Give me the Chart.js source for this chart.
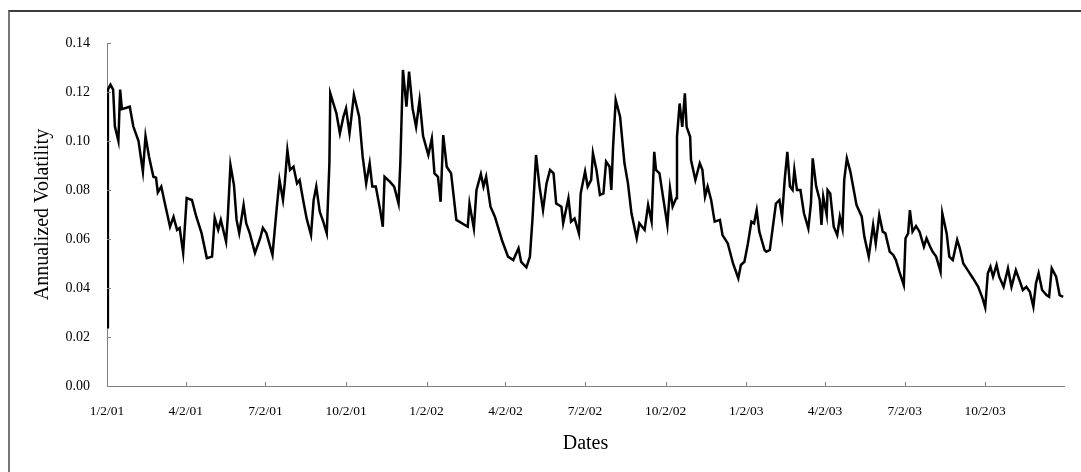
<!DOCTYPE html>
<html>
<head>
<meta charset="utf-8">
<script src="https://cdn.jsdelivr.net/npm/chart.js@4/dist/chart.umd.min.js"></script>
<style>
  body { margin: 0; background: #fff; }
  #wrap { position: relative; width: 1081px; height: 472px; overflow: hidden; }
  #frame { position: absolute; left: 8px; top: 10px; width: 1200px; height: 600px;
           border-top: 2px solid #3c3c3c; border-left: 2px solid #777; }
  #box { position: absolute; left: 0; top: 0; width: 1081px; height: 472px; }
</style>
</head>
<body>
<div id="wrap">
  <div id="frame"></div>
  <div id="box"><canvas id="volChart"></canvas></div>
</div>
<script>
// days counted from 1/2/01
const days = [0, 1, 4, 7, 9, 13, 15, 17, 26, 30, 36, 41, 44, 48, 53, 56, 58, 62, 66, 72,
  76, 80, 83, 87, 91, 97, 102, 108, 114, 120, 123, 127, 130, 136, 138, 141, 145, 148, 151, 156,
  159, 163, 169, 175, 178, 182, 189, 194, 197, 201, 203, 206, 209, 213, 217, 220, 224, 228, 233, 236,
  239, 243, 247, 251, 254, 255, 262, 266, 270, 273, 277, 282, 288, 292, 296, 300, 303, 307, 312, 315,
  317, 323, 328, 333, 335, 338, 342, 345, 349, 353, 357, 361, 367, 371, 374, 378, 381, 384, 388, 393,
  399, 412, 414, 419, 422, 427, 430, 433, 438, 443, 451, 458, 464, 470, 473, 479, 483, 486, 490, 494,
  498, 502, 506, 510, 513, 519, 521, 527, 530, 534, 539, 541, 546, 549, 553, 555, 559, 563, 567, 570,
  574, 576, 578, 581, 586, 591, 595, 599, 605, 608, 614, 618, 622, 625, 627, 631, 635, 640, 643, 646,
  650, 651, 654, 657, 660, 662, 666, 667, 672, 677, 680, 683, 686, 690, 694, 700, 703, 709, 715, 721,
  724, 728, 732, 736, 739, 742, 745, 751, 753, 757, 764, 768, 771, 774, 777, 780, 783, 785, 788, 792,
  796, 801, 804, 806, 810, 814, 816, 818, 822, 823, 826, 830, 834, 837, 840, 842, 845, 849, 856, 862,
  865, 870, 875, 878, 882, 886, 889, 894, 898, 901, 905, 910, 912, 915, 917, 920, 924, 928, 933, 936,
  940, 943, 947, 952, 954, 959, 962, 966, 971, 974, 978, 983, 989, 995, 1000, 1003, 1006, 1009, 1012, 1016,
  1019, 1024, 1029, 1033, 1038, 1042, 1046, 1050, 1054, 1058, 1061, 1064, 1068, 1073, 1076, 1079, 1084, 1088, 1092];

const volatility = [0.024, 0.121, 0.123, 0.121, 0.106, 0.100, 0.121, 0.113, 0.114, 0.106, 0.100, 0.0875, 0.102, 0.0936, 0.0854, 0.085, 0.079, 0.0814, 0.0747, 0.065,
  0.069, 0.0637, 0.0645, 0.0543, 0.0767, 0.0759, 0.0691, 0.0624, 0.0522, 0.0528, 0.0686, 0.0637, 0.0678, 0.0589, 0.0691, 0.0902, 0.082, 0.0678, 0.0624, 0.0739,
  0.0664, 0.0624, 0.0543, 0.0604, 0.0645, 0.0624, 0.0535, 0.0732, 0.0841, 0.0759, 0.0827, 0.0963, 0.0882, 0.0895, 0.0827, 0.0841, 0.0759, 0.0684, 0.0616, 0.0759,
  0.0814, 0.0711, 0.0671, 0.0623, 0.0909, 0.1195, 0.1113, 0.1031, 0.1099, 0.1133, 0.1031, 0.1188, 0.1099, 0.0936, 0.0827, 0.0909, 0.0814, 0.0814, 0.0718, 0.065,
  0.0854, 0.0834, 0.0814, 0.0745, 0.0909, 0.129, 0.114, 0.1283, 0.1133, 0.1058, 0.1167, 0.102, 0.0943, 0.101, 0.0868, 0.0854, 0.0752, 0.1024, 0.0895, 0.0868,
  0.0678, 0.065, 0.0745, 0.0643, 0.08, 0.0865, 0.0814, 0.0854, 0.0732, 0.0691, 0.0596, 0.0528, 0.0514, 0.0562, 0.0507, 0.0484, 0.0528, 0.0684, 0.0943, 0.0814,
  0.0718, 0.0827, 0.0882, 0.0868, 0.0745, 0.0732, 0.0664, 0.0766, 0.0671, 0.0684, 0.0623, 0.0786, 0.0875, 0.0814, 0.0841, 0.095, 0.0882, 0.078, 0.0786, 0.0916,
  0.0895, 0.08, 0.0977, 0.1167, 0.1099, 0.0909, 0.0827, 0.0705, 0.0603, 0.0664, 0.0637, 0.0739, 0.0671, 0.0956, 0.0882, 0.0868, 0.0773, 0.0657, 0.0807, 0.0732,
  0.0766, 0.1017, 0.1153, 0.1058, 0.1195, 0.1058, 0.1017, 0.0922, 0.0841, 0.0909, 0.0882, 0.0773, 0.0814, 0.0759, 0.0671, 0.0678, 0.0616, 0.0582, 0.05, 0.044,
  0.0494, 0.0507, 0.0582, 0.0671, 0.0664, 0.0718, 0.063, 0.0555, 0.0548, 0.0555, 0.0745, 0.0759, 0.0691, 0.0841, 0.0956, 0.0814, 0.08, 0.0882, 0.08, 0.08,
  0.0705, 0.0643, 0.0745, 0.0929, 0.0814, 0.0759, 0.0657, 0.0773, 0.0698, 0.08, 0.0786, 0.065, 0.0616, 0.0691, 0.0643, 0.0841, 0.0929, 0.0875, 0.0739, 0.0691,
  0.0609, 0.0528, 0.0657, 0.0582, 0.0698, 0.063, 0.0623, 0.0548, 0.0535, 0.0514, 0.0466, 0.0412, 0.0603, 0.0623, 0.0718, 0.063, 0.0653, 0.063, 0.0569, 0.0603,
  0.0569, 0.0548, 0.0528, 0.0466, 0.0705, 0.0623, 0.0528, 0.0514, 0.0596, 0.0562, 0.05, 0.0473, 0.044, 0.0405, 0.0358, 0.0321, 0.046, 0.0487, 0.0446, 0.0494,
  0.0446, 0.0405, 0.048, 0.0405, 0.0473, 0.0433, 0.0392, 0.0405, 0.0385, 0.0324, 0.0419, 0.046, 0.0392, 0.0371, 0.0364, 0.048, 0.0446, 0.0371, 0.0364];

// quarterly date ticks
const tickDays = [0, 90, 181, 273, 365, 455, 546, 638, 730, 820, 911, 1003];
const tickLabels = ["1/2/01", "4/2/01", "7/2/01", "10/2/01", "1/2/02", "4/2/02", "7/2/02",
  "10/2/02", "1/2/03", "4/2/03", "7/2/03", "10/2/03"];
const lastDay = 1093;

const axisColor = "#808080";
const serif = "'Liberation Serif', 'Times New Roman', serif";

// tick marks pointing into the plot, like the original
const insideTicks = {
  id: "insideTicks",
  afterDraw(chart) {
    const ctx = chart.ctx;
    const x = chart.scales.x, y = chart.scales.y;
    const area = chart.chartArea;
    ctx.save();
    ctx.strokeStyle = axisColor;
    ctx.lineWidth = 1;
    ctx.beginPath();
    y.ticks.forEach((t) => {
      const py = Math.round(y.getPixelForValue(t.value)) + 0.5;
      ctx.moveTo(area.left, py);
      ctx.lineTo(area.left + 4, py);
    });
    x.ticks.forEach((t) => {
      if (t.value === 0) return;
      const px = Math.round(x.getPixelForValue(t.value)) + 0.5;
      ctx.moveTo(px, area.bottom);
      ctx.lineTo(px, area.bottom - 4);
    });
    ctx.stroke();
    ctx.restore();
  },
};

const points = days.map((d, i) => ({ x: d, y: volatility[i] }));

new Chart(document.getElementById("volChart"), {
  type: "line",
  data: {
    datasets: [{
      data: points,
      borderColor: "#000",
      borderWidth: 2.5,
      pointRadius: 0,
      tension: 0,
      fill: false,
    }],
  },
  options: {
    responsive: true,
    maintainAspectRatio: false,
    animation: false,
    layout: { padding: { top: 43, right: 17, bottom: 0, left: 0 } },
    plugins: { legend: { display: false }, tooltip: { enabled: false } },
    scales: {
      x: {
        type: "linear",
        min: 0,
        max: lastDay,
        afterBuildTicks: (scale) => { scale.ticks = tickDays.map((v) => ({ value: v })); },
        afterFit: (scale) => { scale.height = 86; },
        grid: { drawOnChartArea: false, drawTicks: false },
        border: { color: axisColor, width: 1 },
        ticks: {
          autoSkip: false,
          maxRotation: 0,
          padding: 17,
          color: "#000",
          font: { family: serif, size: 13.5 },
          callback: (v) => tickLabels[tickDays.indexOf(v)],
        },
        title: {
          display: true,
          text: "Dates",
          color: "#000",
          font: { family: serif, size: 20 },
          padding: { top: 0, bottom: 16 },
        },
      },
      y: {
        min: 0,
        max: 0.14,
        afterFit: (scale) => { scale.width = 107; },
        grid: { drawOnChartArea: false, drawTicks: false },
        border: { color: axisColor, width: 1 },
        ticks: {
          stepSize: 0.02,
          padding: 17,
          color: "#000",
          font: { family: serif, size: 14 },
          callback: (v) => v.toFixed(2),
        },
        title: {
          display: true,
          text: "Annualized Volatility",
          color: "#000",
          font: { family: serif, size: 20 },
          padding: { top: 31, bottom: 0 },
        },
      },
    },
  },
  plugins: [insideTicks],
});
</script>
</body>
</html>
